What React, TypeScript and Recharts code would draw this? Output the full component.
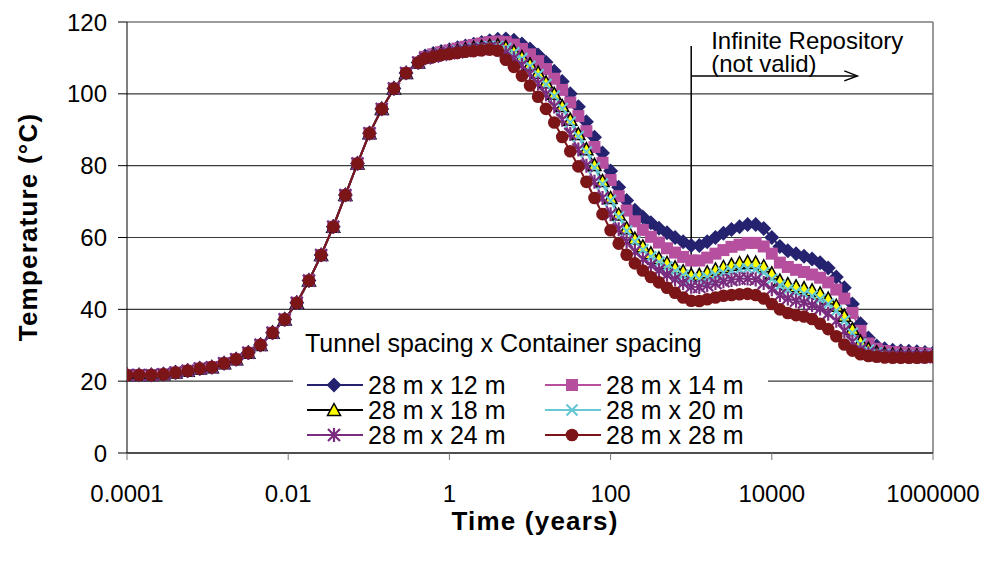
import React from "react";
import { LineChart, Line, XAxis, YAxis, CartesianGrid, Legend, ReferenceLine } from "recharts";

const FONT = "'Liberation Sans', Arial, sans-serif";

// time (years), early part where all six cases coincide
const earlyYears = [
  0.0001, 0.000141, 0.0002, 0.000283, 0.0004, 0.000566, 0.0008, 0.00113, 0.0016, 0.00226,
  0.0032, 0.00453, 0.0064, 0.00905, 0.0128, 0.0181, 0.0256, 0.0362, 0.0512, 0.0724,
  0.102, 0.145, 0.205, 0.29, 0.41,
];
const earlyTemp = [
  21.7, 21.7, 21.7, 21.9, 22.4, 22.9, 23.5, 23.9, 25.0, 26.1,
  27.9, 30.1, 33.5, 37.2, 41.8, 48.0, 55.1, 63.0, 71.8, 80.6,
  89.0, 95.8, 101.5, 105.8, 108.7,
];

// time (years) after the cases split up
const lateYears = [
  0.5, 0.63, 0.79, 1, 1.26, 1.58, 2, 2.51, 3.16, 3.98,
  5.01, 6.31, 7.94, 10, 12.6, 15.8, 20, 25.1, 31.6, 39.8,
  50.1, 63.1, 79.4, 100, 126, 158, 200, 251, 316, 398,
  501, 631, 794, 1000, 1260, 1580, 2000, 2510, 3160, 3980,
  5010, 6310, 7940, 10000, 12600, 15800, 20000, 25100, 31600, 39800,
  50100, 63100, 79400, 100000, 126000, 158000, 200000, 251000, 316000, 398000,
  501000, 631000, 794000, 1000000,
];

const temp12 = [
  110.5, 111.2, 111.8, 112.3, 112.8, 113.3, 113.8, 114.3, 114.8, 115.2,
  115.3, 114.9, 113.9, 112.5, 110.8, 108.8, 106.3, 103.4, 100.0, 96.4, 92.2, 87.9, 83.5, 78.5,
  74.0, 70.3, 67.6, 65.7, 64.1, 62.6, 61.3, 60.0, 58.8, 57.8,
  57.8, 58.8, 60.0, 61.2, 62.2, 63.0, 63.6, 63.6, 62.5, 60.0,
  57.5, 56.3, 55.5, 54.8, 54.0, 53.0, 51.5, 49.0, 46.0, 41.5,
  36.0, 32.0, 29.8, 29.0, 28.6, 28.4, 28.3, 28.2, 28.0, 27.8,
];
const temp14 = [
  110.3, 111.0, 111.6, 112.1, 112.6, 113.1, 113.6, 114.0, 114.4, 114.6,
  114.4, 113.7, 112.5, 111.0, 109.1, 106.9, 104.2, 101.1, 97.6, 93.8, 89.6, 85.2, 80.8, 76.0,
  71.5, 67.5, 64.5, 62.1, 60.2, 58.6, 57.0, 55.8, 54.6, 53.6,
  53.6, 54.4, 55.5, 56.5, 57.4, 58.0, 58.5, 58.5, 57.5, 55.5,
  53.0, 51.8, 51.0, 50.4, 49.7, 48.8, 47.5, 45.5, 43.0, 39.0,
  34.0, 30.5, 29.0, 28.4, 28.1, 28.0, 27.9, 27.8, 27.7, 27.5,
];
const temp18 = [
  110.1, 110.7, 111.2, 111.6, 112.0, 112.4, 112.8, 113.1, 113.4, 113.5,
  113.0, 111.8, 110.2, 108.2, 105.9, 103.2, 100.0, 96.6, 92.8, 88.8, 84.6, 80.2, 75.7, 71.0,
  66.4, 62.6, 59.7, 57.5, 55.6, 54.2, 52.9, 51.7, 50.6, 49.6,
  49.6, 50.3, 51.1, 51.8, 52.4, 52.9, 53.2, 53.0, 52.0, 50.0,
  48.0, 47.0, 46.4, 45.9, 45.3, 44.4, 43.0, 41.0, 38.2, 34.5,
  31.0, 29.0, 28.0, 27.6, 27.4, 27.3, 27.2, 27.1, 27.0, 27.0,
];
const temp20 = [
  110.0, 110.6, 111.1, 111.5, 111.9, 112.3, 112.6, 112.9, 113.2, 113.2,
  112.6, 111.4, 109.8, 107.7, 105.3, 102.6, 99.4, 95.9, 92.1, 88.1, 83.8, 79.4, 74.9, 70.3,
  65.7, 61.8, 58.9, 56.6, 54.6, 53.1, 51.8, 50.6, 49.5, 48.5,
  48.4, 48.9, 49.6, 50.2, 50.7, 51.1, 51.3, 51.1, 50.2, 48.4,
  46.6, 45.5, 44.9, 44.3, 43.7, 42.8, 41.5, 39.6, 36.8, 33.4,
  30.3, 28.6, 27.8, 27.4, 27.2, 27.1, 27.0, 26.9, 26.9, 26.9,
];
const temp24 = [
  109.9, 110.4, 110.9, 111.3, 111.6, 111.9, 112.2, 112.5, 112.7, 112.6,
  111.5, 109.9, 108.0, 105.6, 102.9, 99.9, 96.5, 92.8, 88.8, 84.5, 80.0, 75.5, 71.0, 66.5,
  62.3, 58.8, 56.1, 54.0, 52.3, 50.9, 49.6, 48.4, 47.3, 46.3,
  46.2, 46.7, 47.3, 47.8, 48.2, 48.5, 48.6, 48.3, 47.3, 45.6,
  44.0, 43.0, 42.4, 41.9, 41.2, 40.2, 38.8, 36.8, 34.0, 31.0,
  28.8, 27.8, 27.3, 27.0, 26.9, 26.8, 26.8, 26.7, 26.7, 26.8,
];
const temp28 = [
  109.9, 110.3, 110.8, 111.1, 111.4, 111.7, 111.9, 112.1, 112.3, 112.0,
  109.5, 107.5, 105.0, 102.3, 99.2, 95.8, 92.0, 88.0, 84.0, 79.8, 75.5, 71.0, 66.5, 62.0,
  58.3, 55.2, 52.8, 50.8, 49.0, 47.5, 46.0, 44.6, 43.3, 42.4,
  42.3, 42.8, 43.3, 43.8, 44.0, 44.2, 44.3, 44.0, 43.0, 41.5,
  40.0, 39.0, 38.4, 38.0, 37.3, 36.0, 34.5, 32.5, 30.2, 28.5,
  27.5, 27.0, 26.8, 26.6, 26.5, 26.5, 26.5, 26.5, 26.6, 26.8,
];

const xTicks = [0.0001, 0.01, 1, 100, 10000, 1000000];
const yTicks = [0, 20, 40, 60, 80, 100, 120];

const series = [
  { key: "s12", name: "28 m x 12 m", color: "#25236f", shape: "diamond", values: temp12 },
  { key: "s14", name: "28 m x 14 m", color: "#b6509e", shape: "square", values: temp14 },
  { key: "s18", name: "28 m x 18 m", color: "#000000", shape: "triangle", values: temp18 },
  { key: "s20", name: "28 m x 20 m", color: "#67c8d6", shape: "cross", values: temp20 },
  { key: "s24", name: "28 m x 24 m", color: "#7a2c7e", shape: "star", values: temp24 },
  { key: "s28", name: "28 m x 28 m", color: "#7b1517", shape: "circle", values: temp28 },
];

const data = [
  ...earlyYears.map((t, i) => {
    const row: any = { t };
    series.forEach((s) => (row[s.key] = earlyTemp[i]));
    return row;
  }),
  ...lateYears.map((t, i) => {
    const row: any = { t };
    series.forEach((s) => (row[s.key] = s.values[i]));
    return row;
  }),
];

function Marker({ shape, cx, cy, color }: { shape: string; cx: number; cy: number; color: string }) {
  switch (shape) {
    case "diamond":
      return <path d={`M${cx},${cy - 7.5}L${cx + 7.5},${cy}L${cx},${cy + 7.5}L${cx - 7.5},${cy}Z`} fill={color} />;
    case "square":
      return <rect x={cx - 6} y={cy - 6} width={12} height={12} fill={color} />;
    case "triangle":
      return (
        <path
          d={`M${cx},${cy - 6.5}L${cx + 6.5},${cy + 5.5}L${cx - 6.5},${cy + 5.5}Z`}
          fill="#ffff00"
          stroke="#000"
          strokeWidth={1.5}
        />
      );
    case "cross":
      return (
        <path
          d={`M${cx - 5.5},${cy - 5.5}L${cx + 5.5},${cy + 5.5}M${cx - 5.5},${cy + 5.5}L${cx + 5.5},${cy - 5.5}`}
          stroke={color}
          strokeWidth={2.2}
        />
      );
    case "star":
      return (
        <path
          d={`M${cx},${cy - 7}V${cy + 7}M${cx - 6},${cy - 6}L${cx + 6},${cy + 6}M${cx - 6},${cy + 6}L${cx + 6},${cy - 6}`}
          stroke={color}
          strokeWidth={2.2}
        />
      );
    default:
      return <circle cx={cx} cy={cy} r={6.3} fill={color} />;
  }
}

function LegendBox() {
  return (
    <div
      style={{
        position: "relative",
        width: 475,
        height: 120,
        background: "#fff",
        fontFamily: FONT,
        fontSize: 25,
        color: "#000",
      }}
    >
      <div style={{ position: "absolute", left: 12, top: 5, whiteSpace: "nowrap", lineHeight: "25px" }}>
        Tunnel spacing x Container spacing
      </div>
      {series.map((s, i) => {
        const left = i % 2 === 0 ? 14 : 252;
        const cy = 59 + Math.floor(i / 2) * 25;
        return (
          <div
            key={s.key}
            style={{
              position: "absolute",
              left,
              top: cy - 12,
              height: 24,
              display: "flex",
              alignItems: "center",
              whiteSpace: "nowrap",
              lineHeight: "24px",
            }}
          >
            <svg width={56} height={24}>
              <line x1={0} y1={12} x2={56} y2={12} stroke={s.color} strokeWidth={2} />
              <Marker shape={s.shape} cx={27} cy={12} color={s.color} />
            </svg>
            <span style={{ marginLeft: 5 }}>{s.name}</span>
          </div>
        );
      })}
    </div>
  );
}

export default function App() {
  return (
    <div style={{ position: "absolute", left: 0, top: 0, width: 987, height: 564, background: "#fff" }}>
      <LineChart width={987} height={564} data={data} margin={{ top: 22, right: 54, bottom: 0, left: 0 }}>
        <CartesianGrid vertical={false} stroke="#3a3a3a" strokeWidth={1.2} />
        <XAxis
          dataKey="t"
          type="number"
          scale="log"
          domain={[0.0001, 1000000]}
          allowDataOverflow
          ticks={xTicks}
          tickFormatter={(v: number) => String(v)}
          height={111}
          stroke="#000"
          tickSize={7}
          tickMargin={25}
          tickLine={{ stroke: "#777" }}
          tick={{ fontSize: 24, fill: "#000", fontFamily: FONT }}
          label={{
            content: () => (
              <text
                x={535}
                y={530}
                textAnchor="middle"
                fontFamily={FONT}
                fontSize={26}
                fontWeight="bold"
                letterSpacing={1.2}
                fill="#000"
              >
                Time (years)
              </text>
            ),
          }}
        />
        <YAxis
          type="number"
          domain={[0, 120]}
          ticks={yTicks}
          width={127}
          stroke="#000"
          tickSize={9}
          tickMargin={11}
          tick={{ fontSize: 24, fill: "#000", fontFamily: FONT }}
          label={{
            content: () => (
              <text
                x={37}
                y={227}
                transform="rotate(-90 37 227)"
                textAnchor="middle"
                fontFamily={FONT}
                fontSize={26}
                fontWeight="bold"
                letterSpacing={1.2}
                fill="#000"
              >
                Temperature (°C)
              </text>
            ),
          }}
        />
        <ReferenceLine x={1000000} stroke="#777" strokeWidth={1.5} />
        {series.map((s) => (
          <Line
            key={s.key}
            dataKey={s.key}
            name={s.name}
            stroke={s.color}
            strokeWidth={2}
            isAnimationActive={false}
            dot={(p: any) => (
              <Marker key={`${s.key}-${p.index}`} shape={s.shape} cx={p.cx} cy={p.cy} color={s.color} />
            )}
            activeDot={false}
          />
        ))}
        <ReferenceLine
          segment={[
            { x: 1000, y: 45.4 },
            { x: 1000, y: 113.3 },
          ]}
          stroke="#000"
          strokeWidth={1.5}
          ifOverflow="visible"
          label={{
            content: (p: any) => (
              <g>
                <text x={p.viewBox.x + 20} y={p.viewBox.y + 3} fontFamily={FONT} fontSize={24} fill="#000">
                  Infinite Repository
                </text>
                <text x={p.viewBox.x + 20} y={p.viewBox.y + 26} fontFamily={FONT} fontSize={24} fill="#000">
                  (not valid)
                </text>
              </g>
            ),
          }}
        />
        <ReferenceLine
          segment={[
            { x: 1000, y: 105 },
            { x: 115000, y: 105 },
          ]}
          ifOverflow="visible"
          shape={(p: any) => (
            <g>
              <line x1={p.x1} y1={p.y1} x2={p.x2} y2={p.y2} stroke="#000" strokeWidth={1.5} />
              <path
                d={`M${p.x2 - 13},${p.y2 - 5}L${p.x2},${p.y2}L${p.x2 - 13},${p.y2 + 5}`}
                stroke="#000"
                strokeWidth={1.5}
                fill="none"
              />
            </g>
          )}
        />
        <Legend
          layout="horizontal"
          verticalAlign="middle"
          align="center"
          wrapperStyle={{ left: 293, top: 326, width: 475, height: 120 }}
          content={() => <LegendBox />}
        />
      </LineChart>
    </div>
  );
}
